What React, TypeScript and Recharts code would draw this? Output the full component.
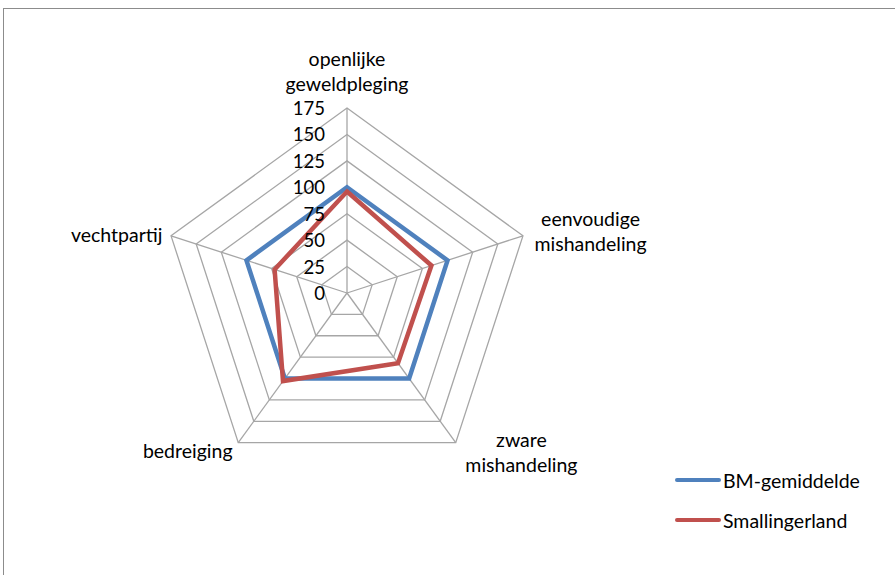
import React from 'react';
import { RadarChart, Radar, PolarGrid, PolarAngleAxis, PolarRadiusAxis, Legend } from 'recharts';

const categories: string[] = [
  'openlijke geweldpleging',
  'eenvoudige mishandeling',
  'zware mishandeling',
  'bedreiging',
  'vechtpartij',
];
const categoryLines: string[][] = [
  ['openlijke', 'geweldpleging'],
  ['eenvoudige', 'mishandeling'],
  ['zware', 'mishandeling'],
  ['bedreiging'],
  ['vechtpartij'],
];
const bmGemiddelde: number[] = [100, 100, 100, 100, 100];
const smallingerland: number[] = [96, 84, 82, 103, 72];
const radiusTicks: number[] = [0, 25, 50, 75, 100, 125, 150, 175];

const seriesNames = ['BM-gemiddelde', 'Smallingerland'];
const seriesColors = ['#4F81BD', '#C0504D'];

const data = categories.map((c, i) => ({
  name: c,
  bm: bmGemiddelde[i],
  sm: smallingerland[i],
}));

const FONT = 'Lato, "Open Sans", sans-serif';

const labelLayout = [
  { dx: 0, dy: -34, anchor: 'middle' },
  { dx: 60, dy: -7, anchor: 'middle' },
  { dx: 61, dy: -2, anchor: 'middle' },
  { dx: -1, dy: 9, anchor: 'end' },
  { dx: -1, dy: 9, anchor: 'end' },
];

const AngleTick = (props: any) => {
  const { x, y, index } = props;
  const lines = categoryLines[index] || [String(props.payload?.value)];
  const l = labelLayout[index];
  return (
    <text
      x={x + l.dx}
      y={y + l.dy}
      textAnchor={l.anchor}
      fontFamily={FONT}
      fontSize={19.5}
      fill="#000"
    >
      {lines.map((t, i) => (
        <tspan key={i} x={x + l.dx} dy={i === 0 ? 0 : 25}>
          {t}
        </tspan>
      ))}
    </text>
  );
};

const RadiusTick = (props: any) => {
  const { x, y, payload } = props;
  return (
    <text x={x - 22} y={y + 7} textAnchor="end" fontFamily={FONT} fontSize={18.5} fill="#000">
      {payload.value}
    </text>
  );
};

const LegendContent = () => (
  <div style={{ fontFamily: FONT, fontSize: 19.5, color: '#000' }}>
    {seriesNames.map((n, i) => (
      <div key={n} style={{ display: 'flex', alignItems: 'center', height: 40 }}>
        <div style={{ width: 46, height: 4, background: seriesColors[i], borderRadius: 2, marginRight: 2 }} />
        <span>{n}</span>
      </div>
    ))}
  </div>
);

export default function App() {
  return (
    <div style={{ position: 'absolute', left: 0, top: 0, width: 895, height: 575, background: '#fff', overflow: 'hidden' }}>
      <div
        style={{
          position: 'absolute',
          left: 3,
          top: 8,
          width: 950,
          height: 650,
          border: '1px solid #8c8c8c',
        }}
      />
      <div style={{ position: 'absolute', left: 0, top: 0 }}>
        <RadarChart
          width={895}
          height={575}
          data={data}
          cx={347}
          cy={293}
          outerRadius={185}
          margin={{ top: 0, right: 0, bottom: 0, left: 0 }}
        >
          <PolarGrid gridType="polygon" stroke="#a6a6a6" strokeWidth={1.3} />
          <PolarAngleAxis dataKey="name" tick={<AngleTick />} tickLine={false} axisLine={false} />
          <PolarRadiusAxis
            angle={90}
            domain={[0, 175]}
            ticks={radiusTicks as any}
            tickCount={8}
            tick={<RadiusTick />}
            axisLine={false}
            tickLine={false}
          />
          <Radar
            name={seriesNames[0]}
            dataKey="bm"
            stroke={seriesColors[0]}
            strokeWidth={4.5}
            fill="none"
            fillOpacity={0}
            dot={false}
            isAnimationActive={false}
          />
          <Radar
            name={seriesNames[1]}
            dataKey="sm"
            stroke={seriesColors[1]}
            strokeWidth={4.5}
            fill="none"
            fillOpacity={0}
            dot={false}
            isAnimationActive={false}
          />
          <Legend
            layout="vertical"
            content={<LegendContent />}
            wrapperStyle={{ position: 'absolute', left: 675, top: 460, width: 200, bottom: 'auto', right: 'auto' }}
          />
        </RadarChart>
      </div>
    </div>
  );
}
